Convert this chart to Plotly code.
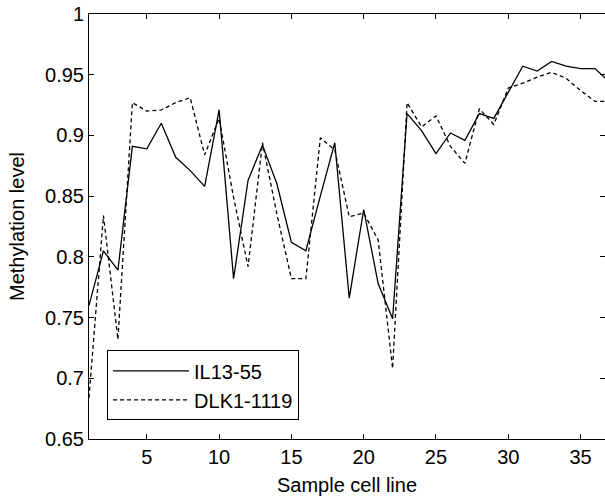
import plotly.graph_objects as go

samples = list(range(1, 38))
il13_55 = [0.760, 0.805, 0.789, 0.891, 0.889, 0.910, 0.882, 0.871, 0.858, 0.921,
           0.782, 0.863, 0.892, 0.860, 0.812, 0.805, 0.850, 0.894, 0.766, 0.839,
           0.778, 0.749, 0.918, 0.904, 0.885, 0.902, 0.896, 0.918, 0.914, 0.936,
           0.957, 0.953, 0.961, 0.957, 0.955, 0.955, 0.944]
dlk1_1119 = [0.684, 0.834, 0.732, 0.927, 0.920, 0.921, 0.927, 0.931, 0.884, 0.914,
             0.849, 0.792, 0.894, 0.835, 0.782, 0.782, 0.898, 0.888, 0.833, 0.836,
             0.814, 0.708, 0.927, 0.907, 0.916, 0.891, 0.877, 0.922, 0.909, 0.939,
             0.943, 0.948, 0.952, 0.947, 0.937, 0.928, 0.928]
y_ticks = [0.65, 0.7, 0.75, 0.8, 0.85, 0.9, 0.95, 1]
y_labels = ["0.65", "0.7", "0.75", "0.8", "0.85", "0.9", "0.95", "1"]
x_ticks = [5, 10, 15, 20, 25, 30, 35]

FONT = "Liberation Sans, Arial, sans-serif"

fig = go.Figure()
fig.add_trace(go.Scatter(x=samples, y=il13_55, mode="lines", name="IL13-55",
                         line=dict(color="black", width=1.3)))
fig.add_trace(go.Scatter(x=samples, y=dlk1_1119, mode="lines", name="DLK1-1119",
                         line=dict(color="black", width=1.3, dash="4px,3px")))
# invisible trace for right-side ticks
fig.add_trace(go.Scatter(x=[samples[0]], y=[y_ticks[0]], yaxis="y2", mode="markers",
                         marker=dict(opacity=0), showlegend=False, hoverinfo="skip"))

fig.update_layout(
    width=605, height=500,
    margin=dict(l=89, r=0, t=14, b=61),
    paper_bgcolor="white", plot_bgcolor="white",
    font=dict(family=FONT, size=20, color="black"),
    showlegend=True,
    legend=dict(x=0.035, y=0.2085, xanchor="left", yanchor="top",
                bgcolor="white", bordercolor="black", borderwidth=1,
                font=dict(size=20), itemwidth=76, tracegroupgap=0),
    xaxis=dict(range=[1, 36.69], tickvals=x_ticks, ticks="inside", ticklen=5,
               tickcolor="black", showline=True, linecolor="black", linewidth=1,
               mirror="ticks", showgrid=False, zeroline=False,
               title=dict(text="Sample cell line", font=dict(size=20), standoff=10),
               tickfont=dict(size=20)),
    yaxis=dict(range=[0.65, 1], tickvals=y_ticks, ticktext=y_labels, ticks="inside",
               ticklen=5, tickcolor="black", showline=True, linecolor="black",
               linewidth=1, mirror=False, showgrid=False, zeroline=False,
               ticklabeloverflow="allow",
               title=dict(text="Methylation level", font=dict(size=20), standoff=15),
               tickfont=dict(size=20)),
    yaxis2=dict(range=[0.65, 1], tickvals=y_ticks, ticks="inside", ticklen=5,
                tickcolor="black", showticklabels=False, showline=False,
                showgrid=False, zeroline=False, overlaying="y", side="right"),
)

fig.write_html("out.html",
               config={"displayModeBar": False},
               post_script="document.body.style.margin='0';document.body.style.overflow='hidden';")
